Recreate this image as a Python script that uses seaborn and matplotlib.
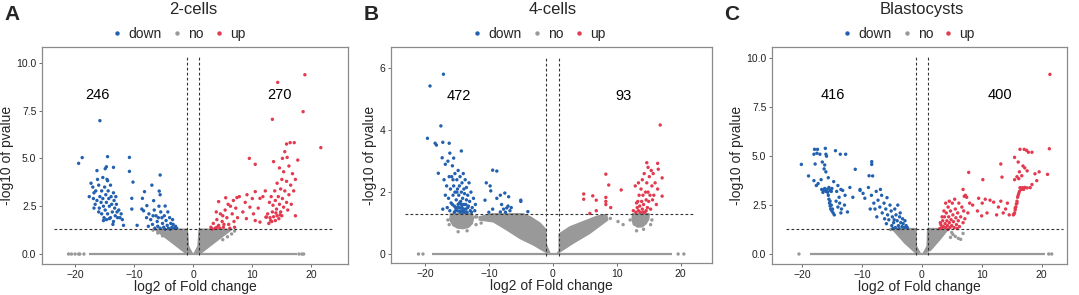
import numpy as np
import matplotlib
matplotlib.use('Agg')
import matplotlib.pyplot as plt
import pandas as pd
import seaborn as sns

# ---------------- data (log2 FC, -log10 p) ----------------
# panel A: 2-cells
a_down = [(-15.8, 6.97), (-19.4, 4.74), (-18.8, 5.04), (-14.5, 5.09), (-10.8, 5.05), (-16.3, 4.36),
          (-14.9, 4.46), (-14.7, 4.56), (-13.5, 4.53), (-10.8, 4.32), (-14.5, 3.83), (-10.2, 3.76),
          (-5.6, 4.13), (-10.4, 2.91), (-10.4, 2.35),
          (-17.3, 3.7), (-17.0, 3.5), (-16.8, 3.2), (-16.9, 2.9), (-16.5, 3.3), (-16.3, 2.8), (-16.6, 2.6),
          (-16.0, 3.6), (-15.8, 3.0), (-15.6, 2.7), (-15.9, 2.4), (-15.5, 3.3), (-15.3, 2.9), (-15.2, 2.5),
          (-15.5, 2.1), (-15.0, 3.5), (-14.8, 3.1), (-14.7, 2.7), (-14.9, 2.3), (-15.1, 1.9), (-14.6, 3.9),
          (-14.4, 3.3), (-14.3, 2.9), (-14.2, 2.5), (-14.5, 2.1), (-14.7, 1.8), (-14.0, 3.6), (-13.9, 3.0),
          (-13.8, 2.6), (-13.7, 2.2), (-14.0, 1.9), (-13.5, 3.2), (-13.4, 2.8), (-13.3, 2.4), (-13.2, 2.0),
          (-13.5, 1.7), (-13.0, 2.6), (-12.9, 2.2), (-12.8, 1.9), (-13.1, 3.0), (-12.6, 2.3), (-12.4, 1.9),
          (-12.2, 2.1), (-12.0, 1.8), (-11.8, 1.5), (-16.0, 2.2), (-15.2, 1.75), (-14.2, 1.85), (-13.6, 1.55),
          (-16.8, 2.4), (-17.6, 3.0), (-16.2, 3.9), (-15.3, 4.0),
          (-8.25, 3.26), (-8.6, 2.91), (-7.0, 3.6), (-5.76, 3.29), (-5.6, 3.1), (-6.7, 2.79), (-4.75, 2.51),
          (-7.85, 2.53), (-8.7, 2.35), (-8.4, 2.26), (-9.5, 1.5), (-7.5, 2.1), (-7.2, 1.8), (-6.9, 1.55),
          (-6.6, 2.3), (-6.3, 2.0), (-6.1, 1.7), (-6.0, 1.45), (-5.8, 2.5), (-5.5, 2.2), (-5.3, 1.9),
          (-5.2, 1.6), (-5.0, 1.4), (-4.9, 2.0), (-4.6, 1.75), (-4.4, 1.5), (-4.2, 1.35), (-4.0, 1.9),
          (-3.8, 1.6), (-3.6, 1.4), (-3.4, 1.55), (-3.2, 1.35), (-3.0, 1.45), (-7.6, 1.45), (-6.5, 1.35),
          (-5.6, 1.35), (-4.8, 1.3), (-3.9, 1.3), (-5.9, 1.9), (-6.8, 2.0), (-7.9, 1.9), (-4.3, 2.2),
          (-3.5, 1.8), (-2.8, 1.35)]
a_up = [(18.9, 9.37), (14.3, 8.97), (18.6, 7.44), (13.4, 7.04), (21.6, 5.56), (16.4, 5.82), (17.1, 5.82),
        (15.8, 5.75), (15.5, 5.35), (17.7, 4.91), (9.5, 5.0), (10.5, 4.69), (15.1, 5.0), (15.9, 5.05),
        (13.6, 4.83),
        (14.6, 4.5), (15.3, 4.3), (16.2, 4.6), (16.8, 4.2), (17.3, 3.9), (15.0, 3.9), (15.8, 3.8), (16.5, 3.6),
        (14.2, 3.7), (14.8, 3.4), (15.5, 3.3), (16.2, 3.1), (17.0, 3.3), (13.8, 3.3), (14.4, 3.0), (15.1, 2.9),
        (15.8, 2.7), (16.6, 2.6), (13.2, 3.0), (13.9, 2.8), (14.6, 2.6), (15.3, 2.45), (13.5, 2.55),
        (14.1, 2.35), (14.8, 2.2), (12.9, 2.7), (16.0, 2.3),
        (12.6, 2.1), (13.0, 1.9), (13.3, 1.7), (13.6, 1.95), (13.9, 1.75), (14.2, 2.0), (14.5, 1.85),
        (12.8, 1.6), (13.4, 2.2), (14.0, 2.15), (14.7, 2.05), (13.1, 1.75), (15.0, 2.0), (17.3, 2.0),
        (12.3, 1.93),
        (10.5, 3.26), (11.3, 2.91), (9.6, 2.45), (10.5, 1.75), (11.3, 1.67), (12.4, 1.93), (8.8, 2.7),
        (7.4, 2.95), (7.8, 3.0), (9.1, 3.1), (10.0, 2.9), (11.8, 3.0), (12.2, 3.3), (11.0, 2.4), (9.0, 1.85),
        (8.4, 2.2), (10.2, 2.1),
        (4.3, 2.74), (5.5, 2.94), (3.0, 1.4), (3.4, 1.6), (3.7, 1.35), (4.0, 1.8), (4.3, 1.5), (4.6, 2.1),
        (4.9, 1.7), (5.1, 1.4), (5.4, 2.3), (5.7, 1.9), (6.0, 1.55), (6.3, 2.5), (6.6, 2.1), (6.9, 1.7),
        (7.2, 2.4), (7.5, 1.9), (4.5, 1.35), (5.2, 1.55), (6.2, 1.35), (3.2, 1.3), (3.9, 2.2), (6.8, 2.8),
        (5.9, 2.6), (7.0, 1.4), (5.0, 2.0), (4.0, 1.4)]
a_no = [(-6.8, 1.25), (-6.0, 1.1), (-5.2, 0.95), (7.0, 1.2), (6.5, 1.05), (5.8, 0.9), (5.0, 0.75),
        (-21.1, 0), (-20.6, 0), (-20.0, 0), (-19.4, 0), (-19.2, 0), (-18.5, 0), (17.9, 0), (18.4, 0), (18.7, 0)]
a_no_areas = [[(-6.6, 1.3), (-1.0, 1.3), (-0.8, 0.4), (-0.1, 0.0), (-1.3, 0.05), (-3.6, 0.6)],
              [(6.6, 1.3), (1.0, 1.3), (0.8, 0.4), (0.1, 0.0), (1.3, 0.05), (3.6, 0.6)]]
a_base = [-17.6, 17.6]

# panel B: 4-cells
b_down = [(-17.1, 5.81), (-19.2, 5.43), (-17.5, 4.14), (-19.6, 3.74), (-18.4, 3.58), (-18.2, 3.52),
          (-17.2, 3.61), (-16.2, 3.58), (-14.3, 3.33), (-17.3, 3.11), (-16.1, 3.26), (-17.9, 2.61),
          (-16.8, 2.9), (-16.4, 3.0), (-15.7, 2.85), (-15.5, 3.1), (-17.0, 2.4), (-16.6, 2.2),
          (-16.5, 1.5), (-16.3, 1.8), (-16.0, 2.1), (-16.1, 1.4), (-15.8, 2.5), (-15.7, 1.6), (-15.6, 1.9),
          (-15.5, 2.2), (-15.4, 1.35), (-15.3, 2.6), (-15.2, 1.5), (-15.1, 1.75), (-15.0, 2.0), (-15.0, 2.4),
          (-14.9, 1.4), (-14.8, 2.7), (-14.8, 1.6), (-14.7, 1.9), (-14.6, 2.2), (-14.5, 1.35), (-14.5, 2.5),
          (-14.4, 1.7), (-14.3, 2.0), (-14.2, 1.5), (-14.2, 2.3), (-14.1, 1.8), (-14.0, 2.6), (-14.0, 1.4),
          (-13.9, 2.1), (-13.8, 1.6), (-13.8, 1.95), (-13.7, 2.4), (-13.6, 1.45), (-13.5, 1.75), (-13.5, 2.15),
          (-13.4, 1.35), (-13.3, 1.9), (-13.2, 1.55), (-13.1, 2.3), (-13.0, 1.7), (-12.9, 1.4), (-12.8, 2.0),
          (-12.6, 1.5), (-12.4, 1.8), (-12.2, 1.4), (-12.1, 1.6), (-15.9, 1.65), (-15.4, 1.55), (-14.6, 1.5),
          (-14.0, 1.6), (-13.6, 1.6), (-15.2, 1.4), (-14.4, 1.4), (-13.9, 1.45), (-15.6, 2.4), (-14.9, 2.1),
          (-14.3, 1.6), (-13.3, 1.5), (-15.0, 1.5), (-16.2, 2.5), (-15.3, 2.0), (-14.6, 1.65), (-14.1, 1.35),
          (-13.7, 1.35), (-12.7, 1.35), (-16.8, 1.9), (-17.2, 1.45),
          (-9.4, 2.71), (-8.75, 2.68), (-10.4, 2.3), (-9.8, 2.2), (-9.7, 2.04), (-10.6, 1.74), (-8.75, 1.8),
          (-8.2, 1.9), (-7.5, 1.97), (-6.9, 1.85), (-5.0, 1.74), (-8.2, 1.36), (-7.7, 1.45), (-7.2, 1.49),
          (-6.7, 1.4), (-9.4, 1.45), (-3.9, 1.37), (-8.0, 1.6), (-7.4, 1.35), (-7.0, 1.55), (-6.5, 1.5),
          (-10.0, 1.35), (-5.0, 1.7)]
b_up = [(16.8, 4.17), (14.7, 2.95), (16.4, 2.93), (16.5, 2.74), (8.3, 2.58), (8.75, 2.23), (10.7, 2.07),
        (4.84, 1.94), (4.84, 1.77), (6.25, 1.88), (6.8, 1.74), (8.3, 1.83), (8.3, 1.7), (8.3, 1.6),
        (9.06, 1.5), (6.8, 1.4), (5.8, 1.31), (17.1, 2.46), (17.1, 1.87), (12.9, 2.2),
        (13.0, 1.35), (13.2, 1.5), (13.3, 1.7), (13.4, 1.4), (13.5, 1.9), (13.6, 1.55), (13.7, 1.35),
        (13.8, 2.1), (13.9, 1.7), (14.0, 1.45), (14.0, 2.4), (14.1, 1.9), (14.2, 1.6), (14.3, 2.6),
        (14.4, 1.35), (14.5, 2.0), (14.6, 1.75), (14.7, 2.3), (14.8, 1.5), (14.9, 2.0), (15.0, 1.7),
        (15.1, 2.5), (15.2, 1.9), (15.3, 1.45), (15.5, 2.2), (15.6, 1.75), (15.8, 1.9), (16.0, 2.3),
        (16.2, 1.6), (15.4, 2.7), (14.9, 2.8), (13.1, 1.65), (12.6, 1.4), (14.2, 1.35), (15.7, 2.6),
        (16.4, 2.1), (14.6, 1.4), (13.4, 2.3)]
b_no = [(-11.9, 1.2), (-11.2, 1.0), (-10.5, 1.15), (-9.0, 1.25), (9.0, 1.15), (10.2, 1.05), (11.0, 0.95),
        (-12.0, 0.95), (-16.4, 1.1), (-16.2, 0.95), (-12.1, 1.2), (-14.8, 0.72), (-13.4, 0.75),
        (15.5, 1.1), (15.3, 0.95), (12.1, 1.1), (13.1, 0.75), (14.2, 0.8),
        (-21.0, 0), (-20.3, 0), (19.6, 0), (20.5, 0)]
b_no_areas = [[(-11.5, 1.2), (-9.5, 1.3), (-4.6, 1.3), (-3.5, 1.2), (-2.0, 1.0), (-1.1, 0.8), (-1.0, 0.3),
               (-0.4, 0.0), (-1.2, 0.07), (-3.0, 0.29), (-5.1, 0.5), (-7.2, 0.78), (-9.3, 1.04), (-11.5, 1.1)],
              [(-16.0, 1.3), (-14.5, 1.32), (-12.6, 1.3), (-12.4, 1.15), (-12.6, 0.98), (-13.2, 0.86),
               (-14.0, 0.82), (-14.9, 0.84), (-15.6, 0.92), (-16.1, 1.1)],
              [(1.0, 0.1), (1.0, 0.65), (2.7, 0.88), (4.8, 1.05), (6.9, 1.22), (8.4, 1.28), (8.6, 1.1),
               (5.8, 0.67), (3.2, 0.35), (0.6, 0.0)],
              [(12.5, 1.3), (13.8, 1.32), (15.1, 1.3), (15.0, 1.12), (14.6, 0.98), (14.0, 0.88), (13.3, 0.87),
               (12.6, 0.95), (12.4, 1.12)]]
b_base = [-18.9, 18.6]

# panel C: Blastocysts
c_down = [(-20.1, 4.58), (-17.9, 5.35), (-17.4, 5.35), (-16.1, 5.4), (-18.0, 5.1), (-17.5, 5.15),
          (-17.0, 5.1), (-15.9, 5.0), (-16.0, 5.1), (-14.4, 5.28), (-13.6, 5.1), (-12.7, 5.1), (-18.9, 3.99),
          (-17.8, 4.6), (-16.6, 4.7), (-16.2, 4.55), (-16.3, 4.35), (-16.0, 4.2), (-11.1, 4.33), (-8.35, 4.72),
          (-8.35, 4.58), (-8.2, 3.99),
          (-18.0, 3.75), (-17.3, 3.6), (-17.6, 3.5), (-16.8, 3.8), (-15.6, 3.9), (-14.7, 3.7), (-14.0, 3.5),
          (-16.7, 3.3), (-16.4, 3.25), (-16.2, 3.35), (-16.0, 3.2), (-15.8, 3.3), (-15.5, 3.4), (-15.3, 3.25),
          (-15.1, 3.2), (-16.5, 3.15), (-15.7, 3.15), (-15.0, 3.35),
          (-15.6, 3.0), (-15.5, 2.8), (-15.4, 2.6), (-15.3, 2.45), (-15.2, 2.3), (-15.0, 2.2), (-14.8, 2.1),
          (-14.6, 2.0), (-15.1, 2.5), (-15.3, 2.7), (-14.9, 2.3),
          (-14.2, 3.2), (-13.8, 2.9), (-13.5, 3.3), (-13.2, 3.25), (-12.8, 3.0), (-13.7, 2.6), (-13.4, 2.3),
          (-13.5, 2.1), (-12.9, 2.5), (-14.3, 2.7), (-14.0, 2.4), (-10.3, 3.25), (-10.3, 3.3), (-12.0, 3.4),
          (-11.5, 2.9), (-12.4, 2.15),
          (-9.5, 2.85), (-8.8, 4.0), (-7.6, 3.2), (-6.9, 3.3), (-5.8, 2.88), (-8.9, 3.4), (-8.4, 3.0),
          (-8.0, 2.6), (-7.8, 2.3), (-7.3, 2.75), (-7.0, 2.4), (-6.6, 2.1), (-6.3, 2.6), (-6.0, 2.3),
          (-5.7, 2.0), (-5.5, 1.75), (-5.3, 2.5), (-5.1, 2.2), (-4.9, 1.9), (-4.7, 1.6), (-4.5, 2.3),
          (-4.3, 2.0), (-4.1, 1.7), (-3.9, 1.45), (-3.7, 1.9), (-3.5, 1.6), (-3.3, 1.4), (-3.1, 1.55),
          (-2.9, 1.35), (-2.6, 1.45), (-2.4, 1.35), (-5.0, 1.45), (-4.4, 1.35), (-3.8, 1.3), (-6.2, 1.8),
          (-5.9, 1.55), (-4.8, 1.3), (-3.6, 2.1), (-4.0, 2.5), (-7.5, 1.9), (-8.6, 2.3), (-9.8, 3.1),
          (-6.7, 3.0), (-2.8, 1.7), (-3.2, 1.8), (-4.6, 1.75)]
c_up = [(21.4, 9.18), (21.3, 5.38), (21.0, 4.07), (16.4, 5.35), (17.1, 5.35), (17.5, 5.3), (17.8, 5.2),
        (18.4, 5.2), (15.5, 4.94), (16.1, 4.7), (16.9, 4.5), (16.3, 4.2), (17.2, 4.4), (17.6, 4.25),
        (16.7, 4.0), (13.2, 4.6), (7.84, 4.17), (10.2, 3.8), (13.4, 3.93), (15.5, 3.8), (15.9, 3.95),
        (16.2, 3.85), (18.9, 4.1), (19.2, 3.75), (18.4, 3.55), (19.6, 4.2),
        (16.4, 3.39), (16.8, 3.39), (17.2, 3.4), (17.6, 3.38), (18.1, 3.39), (16.6, 3.3), (16.2, 3.1),
        (16.0, 2.9), (15.9, 2.7), (15.8, 2.55), (15.7, 2.4), (15.6, 2.25), (15.5, 2.1), (15.3, 2.0),
        (16.1, 3.0), (15.9, 2.6), (15.6, 2.35), (15.4, 2.05), (16.3, 3.2), (17.0, 3.3),
        (12.5, 2.0), (12.8, 2.4), (13.2, 2.7), (13.6, 2.1), (14.0, 2.3), (14.6, 2.0), (12.0, 2.65),
        (9.5, 2.85), (10.1, 2.6), (11.4, 2.75), (10.6, 2.8), (7.1, 2.95), (7.3, 3.0), (7.5, 2.9), (9.3, 2.2),
        (10.0, 1.95), (10.9, 2.1), (14.3, 2.6), (8.5, 2.5), (6.9, 3.3), (7.7, 2.1), (8.0, 2.6),
        (3.0, 1.3), (3.2, 1.5), (3.3, 1.35), (3.5, 1.7), (3.6, 1.4), (3.8, 1.9), (3.9, 1.55), (4.0, 1.35),
        (4.1, 2.1), (4.2, 1.7), (4.3, 1.45), (4.4, 2.4), (4.5, 1.9), (4.6, 1.6), (4.7, 1.35), (4.8, 2.2),
        (4.9, 1.75), (5.0, 1.45), (5.1, 2.6), (5.2, 2.0), (5.3, 1.65), (5.4, 1.35), (5.6, 2.3), (5.7, 1.85),
        (5.8, 1.5), (6.0, 2.1), (6.1, 1.7), (6.3, 1.4), (6.5, 1.9), (6.7, 2.4), (6.9, 1.6), (3.4, 1.9),
        (3.7, 2.2), (4.0, 2.6), (4.6, 2.7), (5.5, 2.8), (6.2, 2.6), (3.1, 1.6), (4.4, 1.25), (5.9, 1.3),
        (7.2, 1.8), (7.0, 2.2)]
c_no = [(5.2, 1.0), (5.6, 0.9), (6.1, 0.8), (6.5, 0.75), (5.0, 1.1), (6.9, 1.05), (4.8, 0.85),
        (-5.2, 1.25), (-20.5, 0), (21.2, 0), (21.7, 0)]
c_no_areas = [[(-5.0, 1.3), (-1.0, 1.3), (-0.9, 0.4), (-0.2, 0.0), (-1.0, 0.05), (-2.8, 0.55)],
              [(1.0, 1.3), (4.5, 1.3), (3.2, 0.8), (1.5, 0.2), (0.2, 0.0), (0.9, 0.4)]]
c_base = [-18.6, 20.6]

titles = ['2-cells', '4-cells', 'Blastocysts']
letters = ['A', 'B', 'C']
counts = [('246', '270'), ('472', '93'), ('416', '400')]

palette = {'down': '#2260b0', 'no': '#999999', 'up': '#e33a4f'}


def make_df(down, no, up):
    frames = []
    for name, pts in [('no', no), ('down', down), ('up', up)]:
        d = pd.DataFrame(pts, columns=['x', 'y'])
        d['group'] = name
        frames.append(d)
    return pd.concat(frames, ignore_index=True)


sns.set_style('white')
plt.rcParams['font.family'] = ['Liberation Sans', 'DejaVu Sans']

fig = plt.figure(figsize=(10.79, 2.95), dpi=100)

panels = [
    dict(df=make_df(a_down, a_no, a_up), areas=a_no_areas, base=a_base,
         rect=[42 / 1079, 0.1051, 306 / 1079, 0.7356], xlim=(-25.6, 26.2), ylim=(-0.52, 10.82),
         yticks=[0, 2.5, 5, 7.5, 10], yfmt='{:.1f}', hline=(-23.5, 23.8), vtop=10.28,
         cpos=((-16.2, 8.3), (14.6, 8.3)), leg_x=0.448, title_x=0.493),
    dict(df=make_df(b_down, b_no, b_up), areas=b_no_areas, base=b_base,
         rect=[391 / 1079, 0.1085, 321 / 1079, 0.7322], xlim=(-25.3, 24.9), ylim=(-0.29, 6.69),
         yticks=[0, 2, 4, 6], yfmt='{:.0f}', hline=(-23.1, 22.2), vtop=6.37,
         cpos=((-14.7, 5.11), (11.0, 5.11)), leg_x=0.461, title_x=0.504),
    dict(df=make_df(c_down, c_no, c_up), areas=c_no_areas, base=c_base,
         rect=[772 / 1079, 0.1051, 295 / 1079, 0.7356], xlim=(-25.0, 24.25), ylim=(-0.51, 10.58),
         yticks=[0, 2.5, 5, 7.5, 10], yfmt='{:.1f}', hline=(-22.6, 23.6), vtop=10.05,
         cpos=((-14.8, 8.12), (13.1, 8.12)), leg_x=0.464, title_x=0.508),
]

for i, p in enumerate(panels):
    ax = fig.add_axes(p['rect'])
    # dense grey "no" cloud
    for poly in p['areas']:
        xs, ys = zip(*poly)
        ax.fill(xs, ys, color=palette['no'], lw=1.0, ec=palette['no'], zorder=1)
    ax.plot(p['base'], [0, 0], color=palette['no'], lw=1.6, solid_capstyle='butt', zorder=1)

    sns.scatterplot(data=p['df'], x='x', y='y', hue='group', hue_order=['down', 'no', 'up'],
                    palette=palette, s=6, linewidth=0, ax=ax, zorder=2)

    ax.plot(list(p['hline']), [1.3, 1.3], ls=(0, (2.5, 2)), color='#333333', lw=0.8, zorder=3)
    for xv in (-1, 1):
        ax.plot([xv, xv], [-0.05, p['vtop']], ls=(0, (2.5, 2)), color='#333333', lw=0.8, zorder=3)

    for txt, (tx, ty) in zip(counts[i], p['cpos']):
        ax.text(tx, ty, txt, ha='center', va='center', fontsize=10.5, color='black')

    ax.set_xlim(*p['xlim'])
    ax.set_ylim(*p['ylim'])
    ax.set_xticks([-20, -10, 0, 10, 20])
    ax.set_yticks(p['yticks'])
    ax.set_yticklabels([p['yfmt'].format(v) for v in p['yticks']])
    ax.tick_params(axis='both', length=2.5, width=0.6, color='#555555', labelsize=7.5,
                   labelcolor='#222222', pad=1.5, direction='out', bottom=True, left=True)
    for sp in ax.spines.values():
        sp.set_color('#8a8a8a')
        sp.set_linewidth(0.9)
    ax.set_xlabel('log2 of Fold change', fontsize=10, labelpad=0.5)
    ax.set_ylabel('-log10 of pvalue', fontsize=10, labelpad=1.5)

    sns.move_legend(ax, 'center', bbox_to_anchor=(p['leg_x'], 1.062), ncol=3, frameon=False,
                    title=None, fontsize=10, handlelength=0.6, handletextpad=0.5, columnspacing=0.8,
                    markerscale=1.3, borderaxespad=0)
    ax.text(p['title_x'], 1.175, titles[i], transform=ax.transAxes, ha='center', va='center',
            fontsize=12)

for x0, letter in zip([4, 364, 724], letters):
    fig.text(x0 / 1079, 0.95, letter, fontsize=15, fontweight='bold', ha='left', va='center')

fig.savefig('out.png', dpi=100)
